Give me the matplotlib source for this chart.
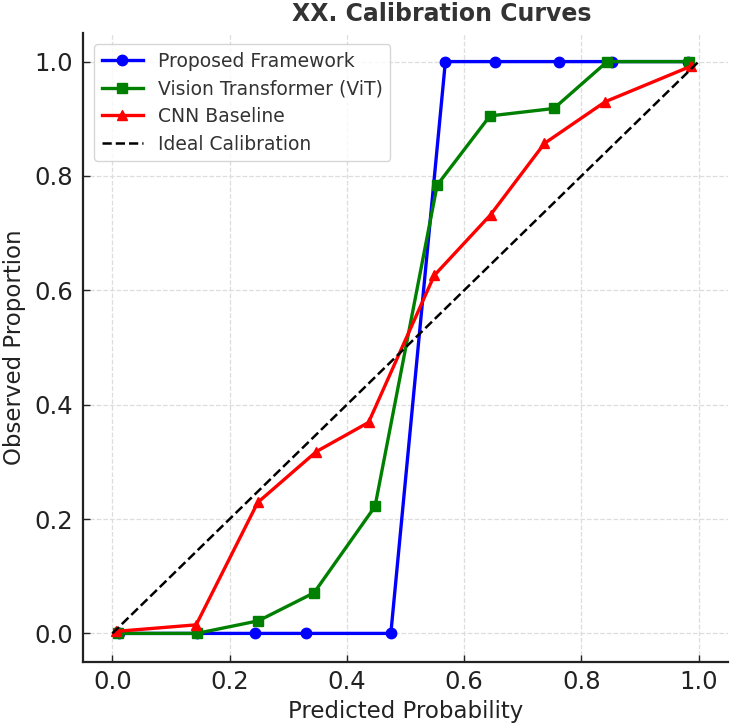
import matplotlib
matplotlib.use("Agg")
import matplotlib.pyplot as plt

# Data
prop_x = [0.012, 0.145, 0.243, 0.330, 0.475, 0.568, 0.652, 0.762, 0.853, 0.982]
prop_y = [0.0, 0.0, 0.0, 0.0, 0.0, 1.0, 1.0, 1.0, 1.0, 1.0]

vit_x = [0.009, 0.144, 0.249, 0.344, 0.448, 0.554, 0.644, 0.753, 0.844, 0.983]
vit_y = [0.0, 0.0, 0.022, 0.071, 0.222, 0.784, 0.905, 0.918, 1.0, 1.0]

cnn_x = [0.006, 0.143, 0.248, 0.348, 0.437, 0.549, 0.645, 0.737, 0.841, 0.987]
cnn_y = [0.0035, 0.015, 0.229, 0.318, 0.369, 0.626, 0.732, 0.857, 0.930, 0.992]

ideal = [0.0, 1.0]

xticks = [0.0, 0.2, 0.4, 0.6, 0.8, 1.0]
yticks = [0.0, 0.2, 0.4, 0.6, 0.8, 1.0]

plt.rcParams['font.family'] = ['DejaVu Sans']

fig = plt.figure(figsize=(7.3, 7.27), dpi=100)
ax = fig.add_axes([83/730, 1-662/727, (728-83)/730, (662-33)/727])

lw = 2.4
ax.plot(prop_x, prop_y, color='blue', marker='o', markersize=7.5, linewidth=lw, label='Proposed Framework')
ax.plot(vit_x, vit_y, color='green', marker='s', markersize=7.5, linewidth=lw, label='Vision Transformer (ViT)')
ax.plot(cnn_x, cnn_y, color='red', marker='^', markersize=7.5, linewidth=lw, label='CNN Baseline')
ax.plot(ideal, ideal, color='black', linestyle='--', linewidth=1.8, label='Ideal Calibration')

ax.set_xlim(-0.05, 1.05)
ax.set_ylim(-0.05, 1.05)
ax.set_xticks(xticks)
ax.set_yticks(yticks)
ax.set_xticklabels([f"{t:.1f}" for t in xticks])
ax.set_yticklabels([f"{t:.1f}" for t in yticks])
ax.tick_params(direction='in', length=5, width=1, labelsize=17.5, colors='#222222')
ax.tick_params(axis='x', pad=6)
ax.tick_params(axis='y', pad=7)

ax.grid(True, linestyle='--', color='#dddddd', linewidth=0.9)
ax.set_axisbelow(True)
for s in ['top', 'right']:
    ax.spines[s].set_visible(False)
for s in ['left', 'bottom']:
    ax.spines[s].set_color('#222222')
    ax.spines[s].set_linewidth(1.6)

ax.set_xlabel('Predicted Probability', fontsize=16.5, color='#222222', labelpad=4)
ax.set_ylabel('Observed Proportion', fontsize=16.5, color='#222222', labelpad=6)

fig.text(442/730, 1-21/727, 'XX. Calibration Curves', ha='center', va='baseline',
         fontsize=17, fontweight='bold', color='#333333')

leg = ax.legend(loc='upper left', fontsize=13.5, frameon=True, fancybox=True,
                borderaxespad=0.6, handlelength=2.2, labelspacing=0.46)
leg.get_frame().set_edgecolor('#cccccc')
for t in leg.get_texts():
    t.set_color('#333333')

fig.savefig('out.png', dpi=100)
